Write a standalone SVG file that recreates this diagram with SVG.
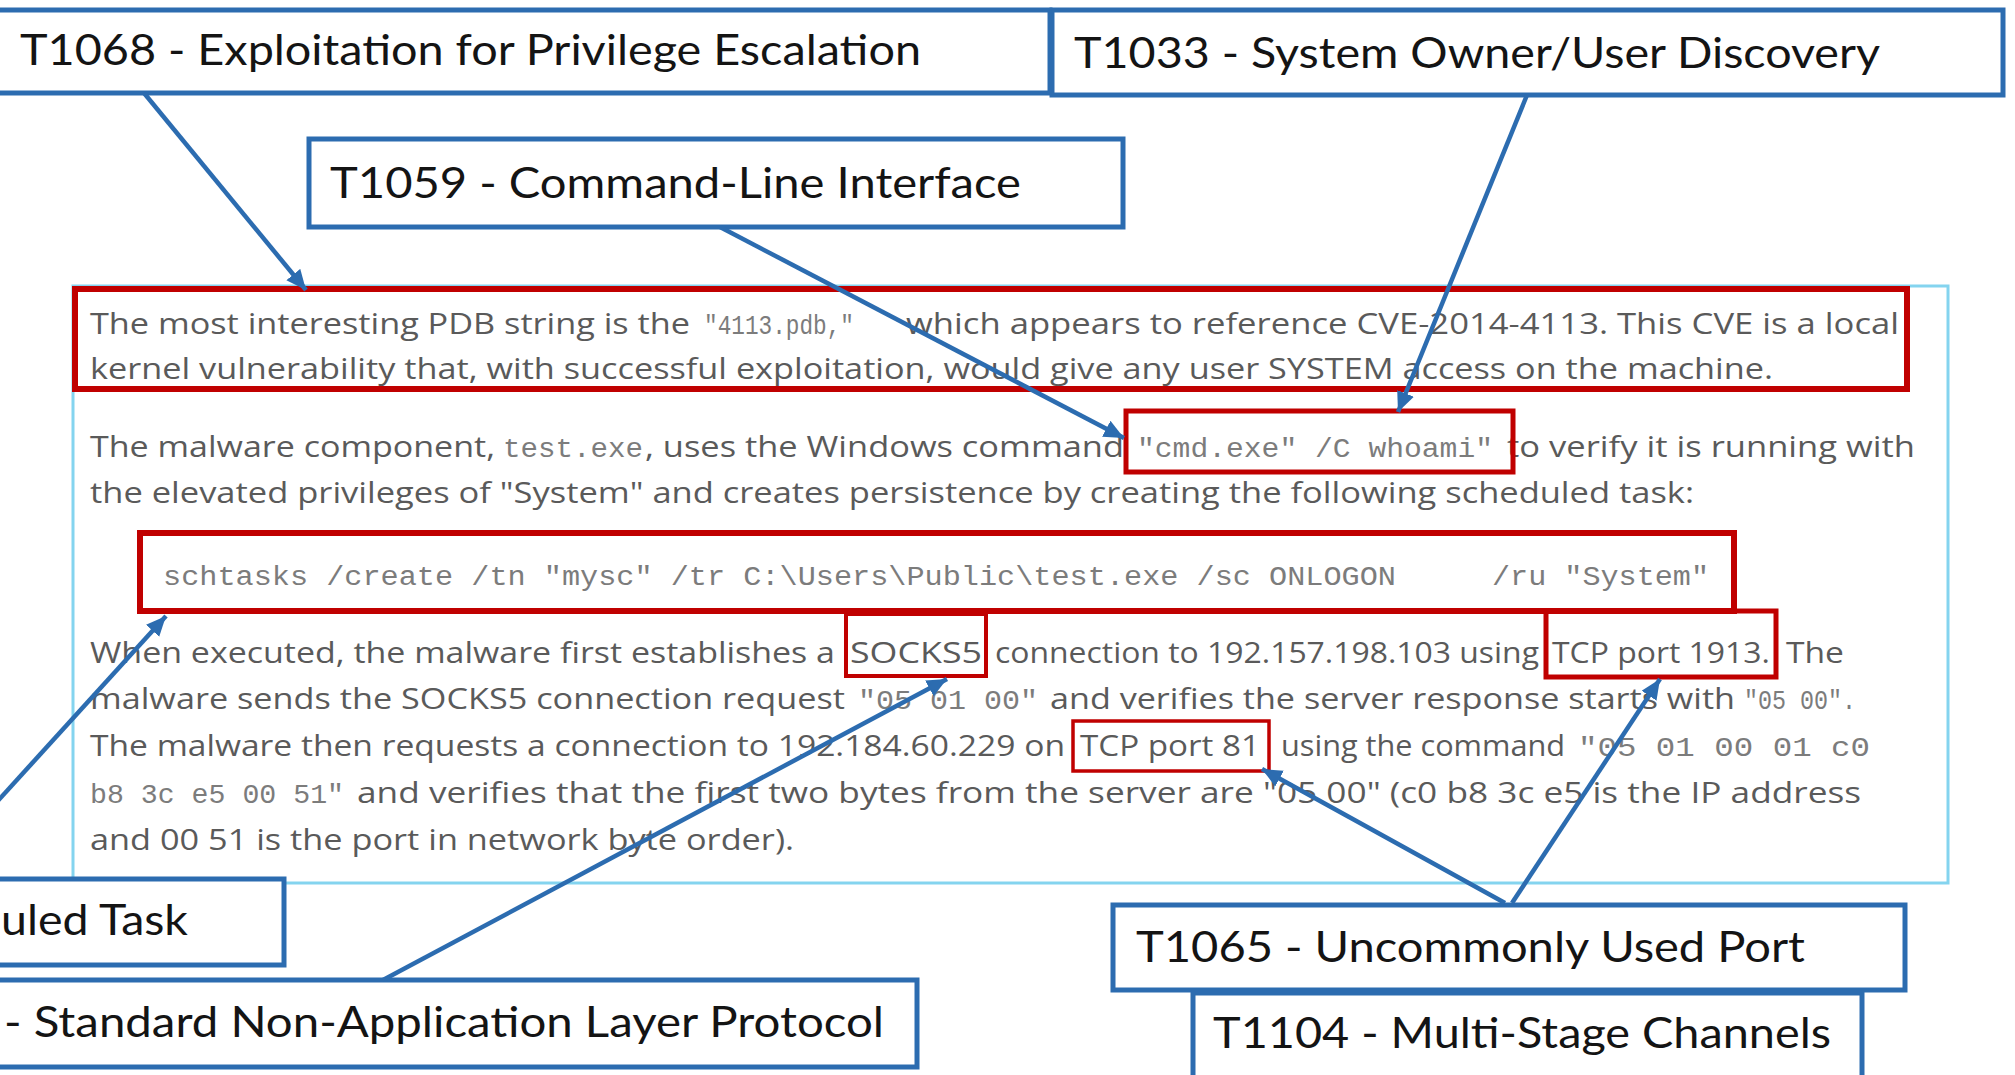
<svg xmlns="http://www.w3.org/2000/svg" width="2015" height="1075" viewBox="0 0 2015 1075">
  <defs>
    <marker id="arrow" markerUnits="userSpaceOnUse" markerWidth="24" markerHeight="20" refX="20" refY="9" orient="auto">
      <path d="M0,0 L20,9 L0,18 Z" fill="#2c6cb0"/>
    </marker>
    <style>
      .frame { fill: none; stroke: #84d4ef; stroke-width: 3; }
      .body { font-family: "Open Sans", "Noto Sans", sans-serif; font-size: 30px; fill: #5a5a5a; }
      .mono { font-family: "Liberation Mono", "DejaVu Sans Mono", monospace; font-size: 27px; fill: #7c7c7c; }
      .hl { fill: none; stroke: #c00000; }
      .label rect { fill: #ffffff; stroke: #2c6cb0; stroke-width: 5; }
      .label text { font-family: Lato, "Open Sans", sans-serif; font-size: 42px; fill: #141414; }
      .conn { stroke: #2c6cb0; stroke-width: 4.5; fill: none; marker-end: url(#arrow); }
    </style>
  </defs>

  <rect width="2015" height="1075" fill="#ffffff"/>

  <!-- article excerpt -->
  <g id="article">
    <rect class="frame" x="73" y="286" width="1875" height="597"/>

    <text class="body" x="90" y="334" textLength="600" lengthAdjust="spacingAndGlyphs">The most interesting PDB string is the</text>
    <text class="mono" x="704" y="334" textLength="150" lengthAdjust="spacingAndGlyphs">"4113.pdb,"</text>
    <text class="body" x="906" y="334" textLength="993" lengthAdjust="spacingAndGlyphs">which appears to reference CVE-2014-4113. This CVE is a local</text>
    <text class="body" x="90" y="379" textLength="1683" lengthAdjust="spacingAndGlyphs">kernel vulnerability that, with successful exploitation, would give any user SYSTEM access on the machine.</text>

    <text class="body" x="90" y="457" textLength="405" lengthAdjust="spacingAndGlyphs">The malware component,</text>
    <text class="mono" x="503" y="457" textLength="140" lengthAdjust="spacingAndGlyphs">test.exe</text>
    <text class="body" x="645" y="457" textLength="479" lengthAdjust="spacingAndGlyphs">, uses the Windows command</text>
    <text class="mono" x="1137" y="457" textLength="356" lengthAdjust="spacingAndGlyphs">"cmd.exe" /C whoami"</text>
    <text class="body" x="1507" y="457" textLength="408" lengthAdjust="spacingAndGlyphs">to verify it is running with</text>
    <text class="body" x="90" y="503" textLength="1604" lengthAdjust="spacingAndGlyphs">the elevated privileges of "System" and creates persistence by creating the following scheduled task:</text>

    <text class="mono" x="163" y="585" textLength="1233" lengthAdjust="spacingAndGlyphs">schtasks /create /tn "mysc" /tr C:\Users\Public\test.exe /sc ONLOGON</text>
    <text class="mono" x="1492" y="585" textLength="217" lengthAdjust="spacingAndGlyphs">/ru "System"</text>

    <text class="body" x="90" y="663" textLength="745" lengthAdjust="spacingAndGlyphs">When executed, the malware first establishes a</text>
    <text class="body" x="850" y="663" textLength="132" lengthAdjust="spacingAndGlyphs">SOCKS5</text>
    <text class="body" x="995" y="663" textLength="544" lengthAdjust="spacingAndGlyphs">connection to 192.157.198.103 using</text>
    <text class="body" x="1552" y="663" textLength="218" lengthAdjust="spacingAndGlyphs">TCP port 1913.</text>
    <text class="body" x="1786" y="663" textLength="58" lengthAdjust="spacingAndGlyphs">The</text>

    <text class="body" x="90" y="709" textLength="755" lengthAdjust="spacingAndGlyphs">malware sends the SOCKS5 connection request</text>
    <text class="mono" x="858" y="709" textLength="180" lengthAdjust="spacingAndGlyphs">"05 01 00"</text>
    <text class="body" x="1050" y="709" textLength="685" lengthAdjust="spacingAndGlyphs">and verifies the server response starts with</text>
    <text class="mono" x="1744" y="709" textLength="112" lengthAdjust="spacingAndGlyphs">"05 00".</text>

    <text class="body" x="90" y="756" textLength="975" lengthAdjust="spacingAndGlyphs">The malware then requests a connection to 192.184.60.229 on</text>
    <text class="body" x="1080" y="756" textLength="180" lengthAdjust="spacingAndGlyphs">TCP port 81</text>
    <text class="body" x="1281" y="756" textLength="284" lengthAdjust="spacingAndGlyphs">using the command</text>
    <text class="mono" x="1578" y="756" textLength="292" lengthAdjust="spacingAndGlyphs">"05 01 00 01 c0</text>

    <text class="mono" x="90" y="803" textLength="254" lengthAdjust="spacingAndGlyphs">b8 3c e5 00 51"</text>
    <text class="body" x="357" y="803" textLength="1504" lengthAdjust="spacingAndGlyphs">and verifies that the first two bytes from the server are "05 00" (c0 b8 3c e5 is the IP address</text>
    <text class="body" x="90" y="850" textLength="704" lengthAdjust="spacingAndGlyphs">and 00 51 is the port in network byte order).</text>
  </g>

  <!-- highlighted passages -->
  <g id="hl-cve"><rect class="hl" x="75" y="289" width="1832" height="100" stroke-width="6"/></g>
  <g id="hl-whoami"><rect class="hl" x="1126" y="411" width="387" height="61" stroke-width="5"/></g>
  <g id="hl-schtasks"><rect class="hl" x="140" y="533" width="1594" height="78" stroke-width="6"/></g>
  <g id="hl-socks5"><rect class="hl" x="846" y="614" width="140" height="62" stroke-width="4"/></g>
  <g id="hl-port1913"><rect class="hl" x="1546" y="611" width="230" height="66" stroke-width="5"/></g>
  <g id="hl-port81"><rect class="hl" x="1073" y="721" width="196" height="50" stroke-width="3.5"/></g>

  <!-- technique labels -->
  <g id="t1068" class="label">
    <rect x="-5" y="10" width="1055" height="83"/>
    <text x="20" y="65" textLength="901" lengthAdjust="spacingAndGlyphs">T1068 - Exploitation for Privilege Escalation</text>
  </g>
  <g id="t1033" class="label">
    <rect x="1052" y="10" width="951" height="85"/>
    <text x="1074" y="68" textLength="806" lengthAdjust="spacingAndGlyphs">T1033 - System Owner/User Discovery</text>
  </g>
  <g id="t1059" class="label">
    <rect x="309" y="139" width="814" height="88"/>
    <text x="330" y="198" textLength="691" lengthAdjust="spacingAndGlyphs">T1059 - Command-Line Interface</text>
  </g>
  <g id="t1053" class="label">
    <rect x="-5" y="879" width="289" height="86"/>
    <text x="1" y="935" textLength="187" lengthAdjust="spacingAndGlyphs">uled Task</text>
  </g>
  <g id="t1095" class="label">
    <rect x="-5" y="980" width="922" height="87"/>
    <text x="4" y="1037" textLength="880" lengthAdjust="spacingAndGlyphs">- Standard Non-Application Layer Protocol</text>
  </g>
  <g id="t1104" class="label">
    <rect x="1193" y="993" width="669" height="95"/>
    <text x="1213" y="1048" textLength="618" lengthAdjust="spacingAndGlyphs">T1104 - Multi-Stage Channels</text>
  </g>
  <g id="t1065" class="label">
    <rect x="1113" y="905" width="792" height="85"/>
    <text x="1136" y="962" textLength="669" lengthAdjust="spacingAndGlyphs">T1065 - Uncommonly Used Port</text>
  </g>

  <!-- connectors -->
  <g id="connectors">
    <line class="conn" x1="144" y1="93" x2="306" y2="290"/>
    <line class="conn" x1="720" y1="227" x2="1124" y2="438"/>
    <line class="conn" x1="1527" y1="95" x2="1398" y2="412"/>
    <line class="conn" x1="-5" y1="804" x2="166" y2="616"/>
    <line class="conn" x1="383" y1="980" x2="947" y2="679"/>
    <line class="conn" x1="1505" y1="903" x2="1262" y2="769"/>
    <line class="conn" x1="1512" y1="903" x2="1660" y2="679"/>
  </g>
</svg>
